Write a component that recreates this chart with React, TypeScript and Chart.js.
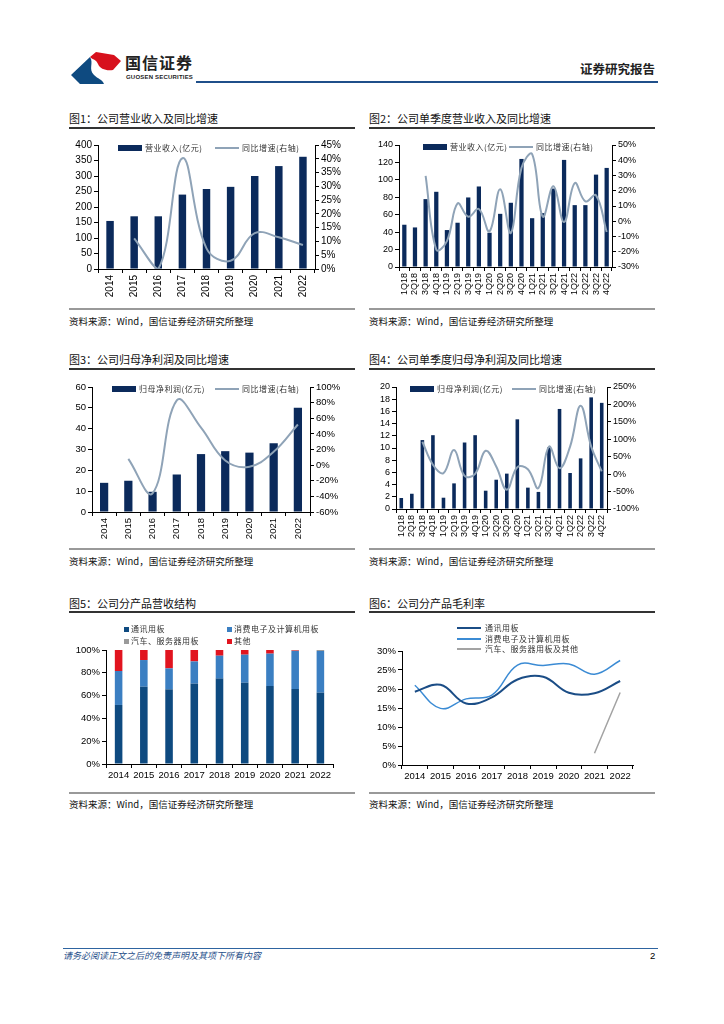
import React, { useEffect, useRef } from "react";
import { Chart, registerables } from "chart.js";
Chart.register(...registerables);

// ---------------- data ----------------
const years = ["2014", "2015", "2016", "2017", "2018", "2019", "2020", "2021", "2022"];
const quarters = [
  "1Q18", "2Q18", "3Q18", "4Q18", "1Q19", "2Q19", "3Q19", "4Q19", "1Q20", "2Q20",
  "3Q20", "4Q20", "1Q21", "2Q21", "3Q21", "4Q21", "1Q22", "2Q22", "3Q22", "4Q22",
];

// 图1 营业收入(亿元) / 同比增速(%)
const revenue = [155, 170, 170, 240, 258, 265, 300, 332, 362];
const revenueYoY = [null, 11.1, 0, 40.2, 7.5, 3, 13, 11.5, 8.7];

// 图2 单季度营业收入(亿元) / 同比增速(%)
const qRevenue = [48.5, 45.4, 77.9, 86.3, 42.4, 50.8, 79.8, 92.4, 39.3, 61, 73.7, 124, 56, 61.8, 90, 122.9, 71, 71, 106, 113.7];
const qRevenueYoY = [null, null, 29.7, -18.6, -13, 11.7, 3, 8, -6.6, 21, -7.7, 35, 44, 3, 23, -0.5, 25, 13, 17, -7];

// 图3 归母净利润(亿元) / 同比增速(%)
const netProfit = [14, 15, 9.7, 18, 27.8, 29.2, 28.5, 33, 50];
const netProfitYoY = [null, 8, -36, 83, 48, 6, -2, 17, 52];

// 图4 单季度归母净利润(亿元) / 同比增速(%)
const qProfit = [1.8, 2.5, 11.3, 12.1, 1.85, 4.2, 10.9, 12.1, 3.0, 4.8, 5.8, 14.7, 3.5, 2.8, 10.1, 16.4, 5.9, 8.3, 18.3, 17.4];
const qProfitYoY = [null, null, 93, 27, 3, 69, -5, 1, 67, 22, -45, 20, 14, -40, 79, 17, 79, 196, 79, 8];

// 图5 分产品营收结构(%)
const mixComm = [51.8, 67.8, 65.5, 70.5, 74.9, 71.3, 68.4, 65.8, 62.6];
const mixConsumer = [29.8, 23.4, 18.4, 19.5, 20.1, 24.6, 28.4, 33.3, 36.5];
const mixAuto = [0, 0, 0, 0, 0, 0, 0, 0.3, 0.9];
const mixOther = [18.4, 8.8, 16.1, 10, 5, 4.1, 3.2, 0.6, 0];

// 图6 分产品毛利率(%)
const gmComm = [19.3, 21.1, 16.2, 17.8, 22.5, 23.2, 19, 18.9, 22.1];
const gmConsumer = [21, 14.9, 17.4, 18.4, 26.3, 26.2, 26.6, 23.9, 27.5];
const gmAuto = [null, null, null, null, null, null, null, 3.1, 19.1];

// ---------------- styles ----------------
const NAVY = "#0b2a5b";
const YOY = "#8fa3b7";
const CJK = "'Noto Sans CJK SC', 'Noto Sans', sans-serif";
const LAT = "'Liberation Sans', Arial, sans-serif";

type Box = { left: number; top: number; width: number; height: number };

function ChartCanvas({ box, build }: { box: Box; build: () => any }) {
  const ref = useRef<HTMLCanvasElement | null>(null);
  useEffect(() => {
    if (!ref.current) return;
    const c = new Chart(ref.current, build());
    return () => c.destroy();
  }, []);
  return (
    <canvas
      ref={ref}
      width={box.width}
      height={box.height}
      style={{ position: "absolute", left: box.left, top: box.top, width: box.width, height: box.height }}
    />
  );
}

const pct = (v: any) => v + "%";

function yAxis(pos: string, min: number, max: number, step: number, width: number, size: number, isPct: boolean) {
  const ticks: any = { stepSize: step, color: "#000", font: { family: LAT, size }, padding: 2, autoSkip: false };
  if (isPct) ticks.callback = pct;
  return {
    position: pos,
    min,
    max,
    border: { display: true, color: "#000" },
    grid: { drawOnChartArea: false, drawTicks: true, tickLength: 4, color: "#000" },
    ticks,
    afterFit: (a: any) => {
      a.width = width;
    },
  };
}

function xAxis(height: number, rotated: boolean, size: number) {
  return {
    offset: true,
    border: { display: true, color: "#000" },
    grid: { drawOnChartArea: false, drawTicks: true, tickLength: 4, color: "#000", offset: true },
    ticks: {
      color: "#000",
      font: { family: LAT, size },
      autoSkip: false,
      minRotation: rotated ? 90 : 0,
      maxRotation: rotated ? 90 : 0,
      padding: 2,
    },
    afterFit: (a: any) => {
      a.height = height;
    },
  };
}

function combo(p: {
  labels: string[];
  bars: number[];
  line: (number | null)[];
  y: [number, number, number];
  y1: [number, number, number];
  yW: number;
  y1W: number;
  padTop: number;
  xH: number;
  barPct: number;
  size: number;
}) {
  return () => ({
    data: {
      labels: p.labels,
      datasets: [
        {
          type: "line",
          data: p.line,
          yAxisID: "y1",
          borderColor: YOY,
          borderWidth: 2,
          tension: 0.4,
          pointRadius: 0,
          order: 0,
        },
        {
          type: "bar",
          data: p.bars,
          yAxisID: "y",
          backgroundColor: NAVY,
          barPercentage: p.barPct,
          categoryPercentage: 1,
          order: 1,
        },
      ],
    },
    options: {
      responsive: false,
      animation: false,
      devicePixelRatio: 1,
      layout: { padding: { top: p.padTop, left: 0, right: 0, bottom: 0 } },
      plugins: { legend: { display: false }, tooltip: { enabled: false } },
      scales: {
        x: xAxis(p.xH, true, p.size),
        y: yAxis("left", p.y[0], p.y[1], p.y[2], p.yW, p.size, false),
        y1: yAxis("right", p.y1[0], p.y1[1], p.y1[2], p.y1W, p.size, true),
      },
    },
  });
}

const chart1 = combo({
  labels: years, bars: revenue, line: revenueYoY,
  y: [0, 400, 50], y1: [0, 45, 5], yW: 38, y1W: 45, padTop: 10, xH: 31, barPct: 0.31, size: 10,
});
const chart2 = combo({
  labels: quarters, bars: qRevenue, line: qRevenueYoY,
  y: [0, 140, 20], y1: [-30, 50, 10], yW: 39, y1W: 48, padTop: 10, xH: 33, barPct: 0.4, size: 9,
});
const chart3 = combo({
  labels: years, bars: netProfit, line: netProfitYoY,
  y: [0, 60, 10], y1: [-60, 100, 20], yW: 32, y1W: 50, padTop: 10, xH: 30, barPct: 0.34, size: 9.5,
});
const chart4 = combo({
  labels: quarters, bars: qProfit, line: qProfitYoY,
  y: [0, 20, 2], y1: [-100, 250, 50], yW: 36, y1W: 53, padTop: 10, xH: 33, barPct: 0.34, size: 9,
});

const chart5 = () => ({
  type: "bar",
  data: {
    labels: years,
    datasets: [
      { data: mixComm, backgroundColor: "#0e4a80" },
      { data: mixConsumer, backgroundColor: "#3b7fc2" },
      { data: mixAuto, backgroundColor: "#9a9a9a" },
      { data: mixOther, backgroundColor: "#e1141f" },
    ].map((d) => ({ ...d, barPercentage: 0.3, categoryPercentage: 1 })),
  },
  options: {
    responsive: false,
    animation: false,
    devicePixelRatio: 1,
    layout: { padding: { top: 10, right: 27, left: 0, bottom: 0 } },
    plugins: { legend: { display: false }, tooltip: { enabled: false } },
    scales: {
      x: { ...xAxis(26, false, 9.5), stacked: true },
      y: { ...yAxis("left", 0, 100, 20, 46, 9.5, true), stacked: true },
    },
  },
});

const chart6 = () => ({
  type: "line",
  data: {
    labels: years,
    datasets: [
      { data: gmComm, borderColor: "#1b4d86", borderWidth: 2 },
      { data: gmConsumer, borderColor: "#3b8bd4", borderWidth: 1.5 },
      { data: gmAuto, borderColor: "#a3a3a3", borderWidth: 1.5 },
    ].map((d) => ({ ...d, tension: 0.4, pointRadius: 0, fill: false })),
  },
  options: {
    responsive: false,
    animation: false,
    devicePixelRatio: 1,
    layout: { padding: { top: 11, right: 27, left: 0, bottom: 0 } },
    plugins: { legend: { display: false }, tooltip: { enabled: false } },
    scales: {
      x: xAxis(25, false, 9.5),
      y: yAxis("left", 0, 30, 5, 42, 9.5, true),
    },
  },
});

// ---------------- page pieces ----------------
const abs = (s: React.CSSProperties): React.CSSProperties => ({ position: "absolute", ...s });

function Title({ x, y, text }: { x: number; y: number; text: string }) {
  return (
    <div style={abs({ left: x, top: y - 8, height: 16, lineHeight: "16px", fontFamily: CJK, fontSize: 11, color: "#111", whiteSpace: "nowrap" })}>
      {text}
    </div>
  );
}

function Rule({ x, y, w, h, c }: { x: number; y: number; w: number; h: number; c: string }) {
  return <div style={abs({ left: x, top: y, width: w, height: h, background: c })} />;
}

function Source({ x, y }: { x: number; y: number }) {
  return (
    <div style={abs({ left: x, top: y - 7, height: 14, lineHeight: "14px", fontFamily: CJK, fontSize: 9.5, color: "#111", whiteSpace: "nowrap" })}>
      资料来源：Wind，国信证券经济研究所整理
    </div>
  );
}

function LegText({ x, y, text }: { x: number; y: number; text: string }) {
  return (
    <div style={abs({ left: x, top: y - 6, height: 12, lineHeight: "12px", fontFamily: CJK, fontSize: 8, letterSpacing: 0.5, color: "#333", whiteSpace: "nowrap" })}>
      {text}
    </div>
  );
}

function ComboLegend({ bx, lx, y, barText }: { bx: number; lx: number; y: number; barText: string }) {
  return (
    <>
      <div style={abs({ left: bx, top: y - 3, width: 24, height: 6, background: NAVY })} />
      <LegText x={bx + 27} y={y} text={barText} />
      <div style={abs({ left: lx, top: y - 1, width: 24, height: 2, background: YOY })} />
      <LegText x={lx + 27} y={y} text="同比增速(右轴)" />
    </>
  );
}

function Square({ x, y, c }: { x: number; y: number; c: string }) {
  return <div style={abs({ left: x, top: y - 2.5, width: 5, height: 5, background: c })} />;
}

function LineKey({ x, y, c, w }: { x: number; y: number; c: string; w: number }) {
  return <div style={abs({ left: x, top: y - w / 2, width: 24, height: w, background: c })} />;
}

export default function App() {
  return (
    <div style={abs({ left: 0, top: 0, width: 724, height: 1024, background: "#fff", overflow: "hidden" })}>
      {/* header */}
      <svg style={abs({ left: 71, top: 52, width: 50, height: 32 })} viewBox="0 0 50 32">
        <path d="M0,23 L19,5 C23,11 17,17 23,23 C27,27 31,27 33,32 L9,32 Z" fill="#0e4a80" />
        <path d="M19,5 L25,0 L43,3 L50,9 L42,18 C35,19 29,17 27,12 C25,7 22,8 19,5 Z" fill="#d7111d" />
      </svg>
      <div style={abs({ left: 125, top: 53, fontFamily: CJK, fontSize: 16, fontWeight: 700, color: "#222", lineHeight: "18px", letterSpacing: 1 })}>
        国信证券
      </div>
      <div style={abs({ left: 126, top: 73, fontFamily: LAT, fontSize: 6, fontWeight: 700, color: "#222", lineHeight: "8px", letterSpacing: 0.2 })}>
        GUOSEN SECURITIES
      </div>
      <Rule x={196} y={81} w={462} h={2} c="#1f4f8a" />
      <div style={abs({ left: 580, top: 61, fontFamily: CJK, fontSize: 12.5, fontWeight: 700, color: "#222", lineHeight: "16px" })}>
        证券研究报告
      </div>

      {/* 图1 */}
      <Title x={69} y={118} text="图1：公司营业收入及同比增速" />
      <Rule x={69} y={127} w={286} h={1.5} c="#333" />
      <ChartCanvas box={{ left: 60, top: 135, width: 300, height: 165 }} build={chart1} />
      <ComboLegend bx={118} lx={215} y={148} barText="营业收入(亿元)" />
      <Rule x={69} y={308} w={286} h={2} c="#999" />
      <Source x={69} y={321} />

      {/* 图2 */}
      <Title x={369} y={118} text="图2：公司单季度营业收入及同比增速" />
      <Rule x={369} y={127} w={286} h={1.5} c="#333" />
      <ChartCanvas box={{ left: 360, top: 135, width: 300, height: 165 }} build={chart2} />
      <ComboLegend bx={423} lx={509} y={147} barText="营业收入(亿元)" />
      <Rule x={369} y={308} w={286} h={2} c="#999" />
      <Source x={369} y={321} />

      {/* 图3 */}
      <Title x={69} y={359} text="图3：公司归母净利润及同比增速" />
      <Rule x={69} y={368} w={286} h={1.5} c="#333" />
      <ChartCanvas box={{ left: 60, top: 377, width: 300, height: 165 }} build={chart3} />
      <ComboLegend bx={112} lx={215} y={389} barText="归母净利润(亿元)" />
      <Rule x={69} y={548} w={286} h={2} c="#999" />
      <Source x={69} y={561} />

      {/* 图4 */}
      <Title x={369} y={359} text="图4：公司单季度归母净利润及同比增速" />
      <Rule x={369} y={368} w={286} h={1.5} c="#333" />
      <ChartCanvas box={{ left: 360, top: 377, width: 300, height: 165 }} build={chart4} />
      <ComboLegend bx={410} lx={512} y={389} barText="归母净利润(亿元)" />
      <Rule x={369} y={548} w={286} h={2} c="#999" />
      <Source x={369} y={561} />

      {/* 图5 */}
      <Title x={69} y={603} text="图5：公司分产品营收结构" />
      <Rule x={69} y={611} w={286} h={1.5} c="#333" />
      <ChartCanvas box={{ left: 60, top: 640, width: 300, height: 150 }} build={chart5} />
      <Square x={124} y={629} c="#0e4a80" />
      <LegText x={131} y={629} text="通讯用板" />
      <Square x={227} y={629} c="#3b7fc2" />
      <LegText x={234} y={629} text="消费电子及计算机用板" />
      <Square x={124} y={641} c="#9a9a9a" />
      <LegText x={131} y={641} text="汽车、服务器用板" />
      <Square x={227} y={641} c="#e1141f" />
      <LegText x={234} y={641} text="其他" />
      <Rule x={69} y={792} w={286} h={2} c="#999" />
      <Source x={69} y={804} />

      {/* 图6 */}
      <Title x={369} y={603} text="图6：公司分产品毛利率" />
      <Rule x={369} y={611} w={286} h={1.5} c="#333" />
      <ChartCanvas box={{ left: 360, top: 640, width: 300, height: 150 }} build={chart6} />
      <LineKey x={457} y={628} c="#1b4d86" w={2} />
      <LegText x={485} y={628} text="通讯用板" />
      <LineKey x={457} y={639} c="#3b8bd4" w={1.5} />
      <LegText x={485} y={639} text="消费电子及计算机用板" />
      <LineKey x={457} y={649} c="#a3a3a3" w={1.5} />
      <LegText x={485} y={649} text="汽车、服务器用板及其他" />
      <Rule x={369} y={792} w={286} h={2} c="#999" />
      <Source x={369} y={804} />

      {/* footer */}
      <Rule x={63} y={948} w={595} h={1} c="#2e64a0" />
      <div style={abs({ left: 63, top: 950, fontFamily: CJK, fontSize: 9, fontStyle: "italic", color: "#1f4f8a", lineHeight: "12px" })}>
        请务必阅读正文之后的免责声明及其项下所有内容
      </div>
      <div style={abs({ left: 650, top: 950, fontFamily: LAT, fontSize: 9.5, color: "#000", lineHeight: "12px" })}>2</div>
    </div>
  );
}
